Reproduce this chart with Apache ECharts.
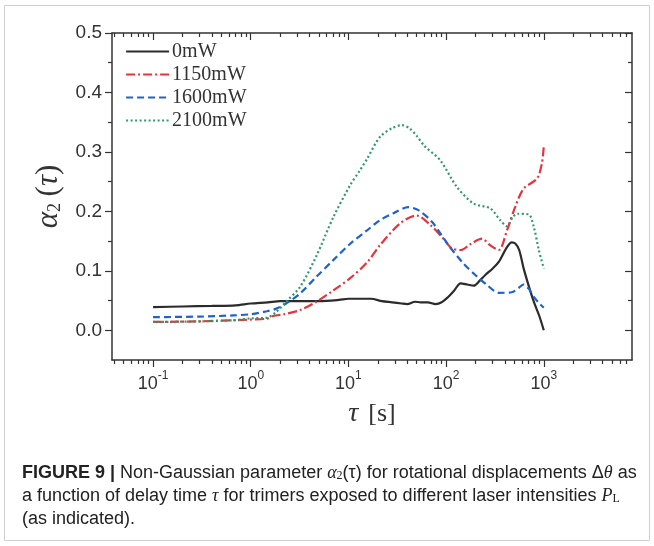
<!DOCTYPE html>
<html><head><meta charset="utf-8">
<script src="https://cdn.jsdelivr.net/npm/echarts@6/dist/echarts.min.js"></script>
<style>html,body{margin:0;padding:0;background:#fff}#c{width:654px;height:546px}</style>
</head><body><div id="c"></div>
<script>
// ---- data ----
const seriesNames = ['0mW', '1150mW', '1600mW', '2100mW'];

const tau0mW = [0.1, 0.2, 0.4, 0.7, 1, 1.5, 2, 3, 5, 8, 10, 13, 17, 22, 28, 35, 40, 48, 55, 65, 78, 90, 105, 120, 141, 165, 192, 220, 252, 300, 346, 420, 470, 511, 560, 620, 700, 790, 900, 1000];
const alpha0mW = [0.039, 0.040, 0.041, 0.042, 0.045, 0.047, 0.049, 0.049, 0.049, 0.051, 0.053, 0.053, 0.053, 0.049, 0.047, 0.045, 0.044, 0.048, 0.047, 0.047, 0.044, 0.047, 0.056, 0.066, 0.079, 0.077, 0.075, 0.083, 0.093, 0.104, 0.115, 0.140, 0.148, 0.146, 0.135, 0.105, 0.075, 0.048, 0.024, 0.0];

const tau1150mW = [0.1, 0.3, 0.7, 1, 1.46, 1.7, 2.2, 3.2, 4.7, 7, 10.5, 15.5, 21, 34, 50, 69, 94, 114, 141, 178, 233, 283, 346, 420, 511, 620, 850, 955, 1000];
const alpha1150mW = [0.014, 0.015, 0.017, 0.018, 0.0195, 0.024, 0.027, 0.034, 0.048, 0.067, 0.088, 0.114, 0.143, 0.180, 0.193, 0.177, 0.154, 0.138, 0.135, 0.145, 0.154, 0.143, 0.135, 0.168, 0.208, 0.238, 0.255, 0.280, 0.310];

const tau1600mW = [0.1, 0.3, 0.66, 1, 1.46, 1.8, 2.3, 3.2, 4.7, 7, 10.5, 15.5, 21, 29, 41, 52, 72, 106, 151, 199, 263, 346, 470, 560, 620, 700, 790, 900, 1000];
const alpha1600mW = [0.022, 0.023, 0.025, 0.027, 0.032, 0.036, 0.045, 0.062, 0.090, 0.118, 0.146, 0.168, 0.185, 0.197, 0.207, 0.202, 0.182, 0.143, 0.112, 0.093, 0.076, 0.063, 0.064, 0.072, 0.077, 0.070, 0.056, 0.045, 0.038];

const tau2100mW = [0.1, 0.3, 0.7, 1, 1.46, 1.8, 2.3, 3.2, 4.7, 7, 10.5, 13, 15.5, 21, 28, 35, 42, 50, 60, 87, 129, 192, 283, 359, 420, 480, 536, 700, 790, 890, 1000];
const alpha2100mW = [0.014, 0.015, 0.017, 0.020, 0.021, 0.030, 0.048, 0.073, 0.125, 0.190, 0.245, 0.268, 0.288, 0.325, 0.340, 0.345, 0.340, 0.327, 0.310, 0.286, 0.241, 0.213, 0.205, 0.185, 0.175, 0.190, 0.196, 0.195, 0.174, 0.135, 0.104];

const xMajorTicks = [0.1, 1, 10, 100, 1000];
const xMinorTicks = [0.04, 0.05, 0.06, 0.07, 0.08, 0.09,
  0.2, 0.3, 0.4, 0.5, 0.6, 0.7, 0.8, 0.9,
  2, 3, 4, 5, 6, 7, 8, 9,
  20, 30, 40, 50, 60, 70, 80, 90,
  200, 300, 400, 500, 600, 700, 800, 900,
  2000, 3000, 4000, 5000, 6000, 7000];
const yMajorTicks = [0.0, 0.1, 0.2, 0.3, 0.4, 0.5];
const yMinorTicks = [0.05, 0.15, 0.25, 0.35, 0.45];

const captionLines = [
  '{b|FIGURE 9 |} Non-Gaussian parameter {i|α}{s|2}(τ) for rotational displacements Δ{i|θ} as',
  'a function of delay time {i|τ} for trimers exposed to different laser intensities {i|P}{s|L}',
  '(as indicated).'
];

// ---- chart ----
const X_MIN = 0.038, X_MAX = 8000, Y_MIN = -0.05, Y_MAX = 0.5;
const AX = '#333';
const colors = ['#2b2b2b', '#e5343c', '#1f62c9', '#2f9a6a'];
const dashes = ['solid', [9, 3, 2, 3], [7, 4], [2, 2.5]];
const taus = [tau0mW, tau1150mW, tau1600mW, tau2100mW];
const vals = [alpha0mW, alpha1150mW, alpha1600mW, alpha2100mW];

function xAxisDef(pos, ticks, len, inside, withLine, labels) {
  return {
    type: 'log', logBase: 10, min: X_MIN, max: X_MAX, position: pos, gridIndex: 0,
    axisLine: {show: withLine, onZero: false, lineStyle: {color: AX, width: 1.5}},
    axisTick: {show: true, inside: inside, length: len, customValues: ticks, lineStyle: {color: AX, width: 1.2}},
    axisLabel: labels ? {
      show: true, customValues: xMajorTicks, margin: 10,
      formatter: v => '{b|10}{e|' + Math.round(Math.log10(v)) + '}',
      rich: {
        b: {fontFamily: 'Liberation Sans, Arial', fontSize: 18, color: '#333', verticalAlign: 'bottom', lineHeight: 23},
        e: {fontFamily: 'Liberation Sans, Arial', fontSize: 12, color: '#333', verticalAlign: 'top', lineHeight: 23}
      }
    } : {show: false},
    splitLine: {show: false}, minorTick: {show: false}
  };
}
function yAxisDef(pos, ticks, len, inside, withLine, labels) {
  return {
    type: 'value', min: Y_MIN, max: Y_MAX, position: pos, gridIndex: 0,
    axisLine: {show: withLine, onZero: false, lineStyle: {color: AX, width: 1.5}},
    axisTick: {show: true, inside: inside, length: len, customValues: ticks, lineStyle: {color: AX, width: 1.2}},
    axisLabel: labels ? {
      show: true, customValues: yMajorTicks, margin: 10,
      formatter: v => v.toFixed(1),
      fontFamily: 'Liberation Sans, Arial', fontSize: 19, color: '#333'
    } : {show: false},
    splitLine: {show: false}
  };
}

const xAxes = [
  xAxisDef('bottom', xMajorTicks, 7, false, true, true),
  xAxisDef('bottom', xMinorTicks, 4, false, false, false),
  xAxisDef('top', xMajorTicks, 7, true, true, false),
  xAxisDef('top', xMinorTicks, 4, true, false, false)
];
Object.assign(xAxes[0], {
  name: '{t|τ}   {p|[s]}', nameLocation: 'middle', nameGap: 40,
  nameTextStyle: {rich: {
    t: {fontFamily: 'Liberation Serif', fontStyle: 'italic', fontSize: 28, color: '#333'},
    p: {fontFamily: 'Liberation Serif', fontSize: 26, color: '#333'}
  }}
});
const yAxes = [
  yAxisDef('left', yMajorTicks, 7, false, true, true),
  yAxisDef('left', yMinorTicks, 4, false, false, false),
  yAxisDef('right', yMajorTicks, 7, true, true, false),
  yAxisDef('right', yMinorTicks, 4, true, false, false)
];
Object.assign(yAxes[0], {
  name: '{a|α}{s|2}  {p|(}{t|τ}{p|)}', nameLocation: 'middle', nameGap: 46, nameRotate: 90,
  nameTextStyle: {rich: {
    a: {fontFamily: 'Liberation Serif', fontStyle: 'italic', fontSize: 31, color: '#333', verticalAlign: 'bottom', lineHeight: 32},
    s: {fontFamily: 'Liberation Serif', fontSize: 18, color: '#333', verticalAlign: 'bottom', lineHeight: 26},
    p: {fontFamily: 'Liberation Serif', fontSize: 31, color: '#333', verticalAlign: 'bottom', lineHeight: 32},
    t: {fontFamily: 'Liberation Serif', fontStyle: 'italic', fontSize: 31, color: '#333', verticalAlign: 'bottom', lineHeight: 32}
  }}
});

const series = seriesNames.map((n, k) => ({
  name: n, type: 'line', xAxisIndex: 0, yAxisIndex: 0,
  data: taus[k].map((t, i) => [t, vals[k][i]]),
  showSymbol: false, symbol: 'none', smooth: 0.3,
  lineStyle: {color: colors[k], width: 2.2, type: dashes[k]},
  itemStyle: {color: colors[k]},
  emphasis: {disabled: true}, animation: false
}));

const capRich = {
  b: {fontFamily: 'Liberation Sans Narrow, Liberation Sans', fontWeight: 'bold', fontSize: 18, color: '#222'},
  i: {fontFamily: 'Liberation Serif', fontStyle: 'italic', fontSize: 18, color: '#222'},
  s: {fontFamily: 'Liberation Serif', fontSize: 12, color: '#222', verticalAlign: 'bottom', lineHeight: 14}
};

const chart = echarts.init(document.getElementById('c'), null, {renderer: 'canvas'});
chart.setOption({
  animation: false,
  backgroundColor: '#fff',
  grid: {left: 112, right: 22, top: 33, bottom: 186, containLabel: false},
  xAxis: xAxes,
  yAxis: yAxes,
  legend: {
    orient: 'vertical', left: 125, top: 41, padding: 0,
    itemWidth: 43, itemHeight: 14, itemGap: 2,
    data: seriesNames,
    itemStyle: {opacity: 0, borderWidth: 0},
    lineStyle: {width: 2.2},
    textStyle: {fontFamily: 'Liberation Serif', fontSize: 20, color: '#333', lineHeight: 21, padding: [0, 0, 0, -2]},
    selectedMode: false
  },
  series: series,
  graphic: [
    {type: 'rect', shape: {x: 4.5, y: 5.5, width: 645, height: 535}, style: {fill: 'none', stroke: '#cfcfcf', lineWidth: 1}, silent: true},
    ...captionLines.map((t, i) => ({
      type: 'text', left: 22, top: 464 + i * 23, silent: true,
      style: {text: t, fontFamily: 'Liberation Sans Narrow, Liberation Sans', fontSize: 18, fill: '#222', rich: capRich}
    }))
  ]
});
</script>
</body></html>
